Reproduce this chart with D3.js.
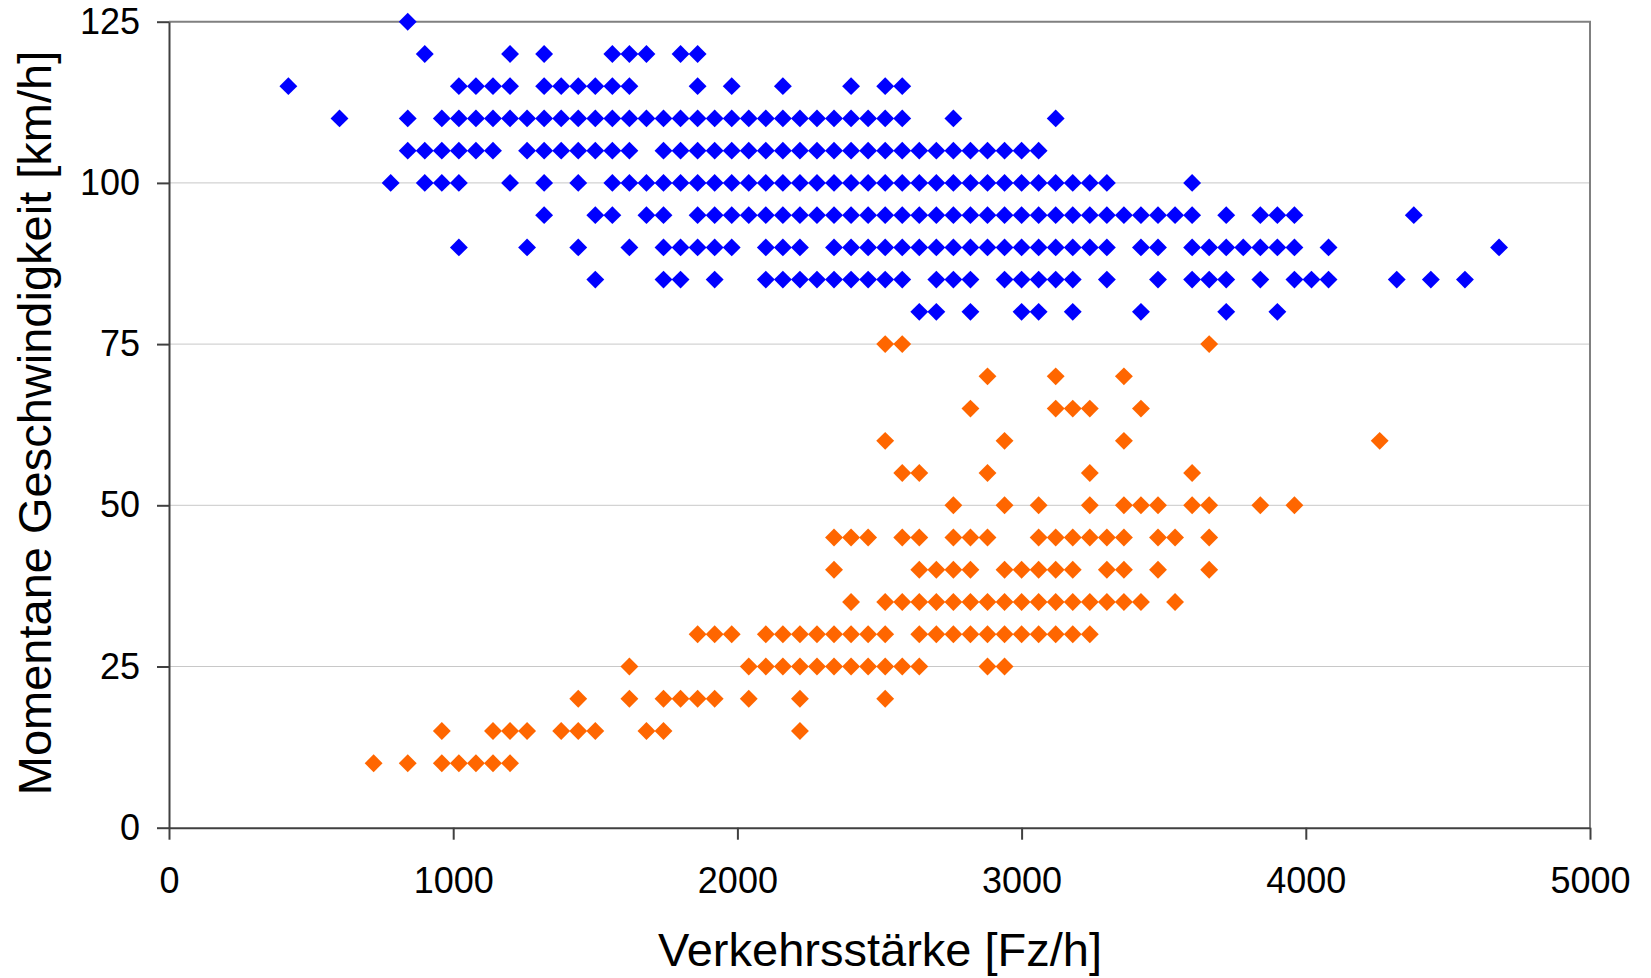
<!DOCTYPE html>
<html>
<head>
<meta charset="utf-8">
<script src="https://cdn.jsdelivr.net/npm/d3@7"></script>
<style>
  body { margin: 0; background: #fff; }
  svg { display: block; font-family: 'Liberation Sans', Arial, sans-serif; }
  .grid line { stroke: #c8c8c8; stroke-width: 1; }
  .axis path, .axis line { stroke: #404040; stroke-width: 2; }
  .axis text { font-size: 36px; fill: #000; }
  .title { font-size: 47px; fill: #000; }
</style>
</head>
<body>
<div id="container"></div>
<script>

//---------------------
// DATA
//---------------------

// axis ticks
const ticksX = [0, 1000, 2000, 3000, 4000, 5000];
const ticksY = [0, 25, 50, 75, 100, 125];

// free flow: speed level -> traffic volumes [Fz/h]
const freeSpeeds = [125, 120, 115, 110, 105, 100, 95, 90, 85, 80];
const freeVolumes = [
  [840],
  [900, 1200, 1320, 1560, 1620, 1680, 1800, 1860],
  [420, 1020, 1080, 1140, 1200, 1320, 1380, 1440, 1500, 1560, 1620, 1860, 1980, 2160, 2400, 2520, 2580],
  [600, 840, 960, 1020, 1080, 1140, 1200, 1260, 1320, 1380, 1440, 1500, 1560, 1620, 1680, 1740, 1800,
   1860, 1920, 1980, 2040, 2100, 2160, 2220, 2280, 2340, 2400, 2460, 2520, 2580, 2760, 3120],
  [840, 900, 960, 1020, 1080, 1140, 1260, 1320, 1380, 1440, 1500, 1560, 1620, 1740, 1800, 1860, 1920,
   1980, 2040, 2100, 2160, 2220, 2280, 2340, 2400, 2460, 2520, 2580, 2640, 2700, 2760, 2820, 2880,
   2940, 3000, 3060],
  [780, 900, 960, 1020, 1200, 1320, 1440, 1560, 1620, 1680, 1740, 1800, 1860, 1920, 1980, 2040, 2100,
   2160, 2220, 2280, 2340, 2400, 2460, 2520, 2580, 2640, 2700, 2760, 2820, 2880, 2940, 3000, 3060,
   3120, 3180, 3240, 3300, 3600],
  [1320, 1500, 1560, 1680, 1740, 1860, 1920, 1980, 2040, 2100, 2160, 2220, 2280, 2340, 2400, 2460,
   2520, 2580, 2640, 2700, 2760, 2820, 2880, 2940, 3000, 3060, 3120, 3180, 3240, 3300, 3360, 3420,
   3480, 3540, 3600, 3720, 3840, 3900, 3960, 4380],
  [1020, 1260, 1440, 1620, 1740, 1800, 1860, 1920, 1980, 2100, 2160, 2220, 2340, 2400, 2460, 2520,
   2580, 2640, 2700, 2760, 2820, 2880, 2940, 3000, 3060, 3120, 3180, 3240, 3300, 3420, 3480, 3600,
   3660, 3720, 3780, 3840, 3900, 3960, 4080, 4680],
  [1500, 1740, 1800, 1920, 2100, 2160, 2220, 2280, 2340, 2400, 2460, 2520, 2580, 2700, 2760, 2820,
   2940, 3000, 3060, 3120, 3180, 3300, 3480, 3600, 3660, 3720, 3840, 3960, 4020, 4080, 4320, 4440, 4560],
  [2640, 2700, 2820, 3000, 3060, 3180, 3420, 3720, 3900]
];

// congested flow: speed level -> traffic volumes [Fz/h]
const jamSpeeds = [75, 70, 65, 60, 55, 50, 45, 40, 35, 30, 25, 20, 15, 10];
const jamVolumes = [
  [2520, 2580, 3660],
  [2880, 3120, 3360],
  [2820, 3120, 3180, 3240, 3420],
  [2520, 2940, 3360, 4260],
  [2580, 2640, 2880, 3240, 3600],
  [2760, 2940, 3060, 3240, 3360, 3420, 3480, 3600, 3660, 3840, 3960],
  [2340, 2400, 2460, 2580, 2640, 2760, 2820, 2880, 3060, 3120, 3180, 3240, 3300, 3360, 3480, 3540, 3660],
  [2340, 2640, 2700, 2760, 2820, 2940, 3000, 3060, 3120, 3180, 3300, 3360, 3480, 3660],
  [2400, 2520, 2580, 2640, 2700, 2760, 2820, 2880, 2940, 3000, 3060, 3120, 3180, 3240, 3300, 3360,
   3420, 3540],
  [1860, 1920, 1980, 2100, 2160, 2220, 2280, 2340, 2400, 2460, 2520, 2640, 2700, 2760, 2820, 2880,
   2940, 3000, 3060, 3120, 3180, 3240],
  [1620, 2040, 2100, 2160, 2220, 2280, 2340, 2400, 2460, 2520, 2580, 2640, 2880, 2940],
  [1440, 1620, 1740, 1800, 1860, 1920, 2040, 2220, 2520],
  [960, 1140, 1200, 1260, 1380, 1440, 1500, 1680, 1740, 2220],
  [720, 840, 960, 1020, 1080, 1140, 1200]
];

//---------------------
// DIMENSIONS + SCALES
//---------------------

const width = 1651;
const height = 978;
const margin = { top: 21.7, right: 61, bottom: 150.3, left: 169 };
const innerW = width - margin.left - margin.right;
const innerH = height - margin.top - margin.bottom;

const scaleX = d3.scaleLinear().domain([0, 5000]).range([0, innerW]);
const scaleY = d3.scaleLinear().domain([0, 125]).range([innerH, 0]);

// flatten rows into points
function toPoints (speeds, volumes) {
  return d3.merge(speeds.map((s, i) => volumes[i].map(q => ({ q: q, v: s }))));
}

//---------------------
// DRAW
//---------------------

const svg = d3.select('#container')
              .append('svg')
              .attr('width', width)
              .attr('height', height);

const g = svg.append('g')
             .attr('transform', `translate(${margin.left}, ${margin.top})`);

// horizontal gridlines
g.append('g')
 .attr('class', 'grid')
 .selectAll('line')
 .data(ticksY.filter(t => t > 0 && t < 125))
 .enter()
 .append('line')
 .attr('x1', 0)
 .attr('x2', innerW)
 .attr('y1', d => scaleY(d))
 .attr('y2', d => scaleY(d));

// plot area border (top + right)
g.append('path')
 .attr('d', `M0,0H${innerW}V${innerH}`)
 .attr('fill', 'none')
 .attr('stroke', '#808080')
 .attr('stroke-width', 2);

// diamond markers
const diamond = d3.symbol(d3.symbolSquare, 160);

function plotSeries (points, color) {
  g.append('g')
   .selectAll('path')
   .data(points)
   .enter()
   .append('path')
   .attr('d', diamond)
   .attr('fill', color)
   .attr('transform', d => `translate(${scaleX(d.q)}, ${scaleY(d.v)}) rotate(45)`);
}

plotSeries(toPoints(freeSpeeds, freeVolumes), '#0000ff');
plotSeries(toPoints(jamSpeeds, jamVolumes), '#ff6600');

// axes
const axisX = d3.axisBottom(scaleX)
                .tickValues(ticksX)
                .tickSizeInner(12)
                .tickSizeOuter(0)
                .tickPadding(28)
                .tickFormat(d3.format('d'));

g.append('g')
 .attr('class', 'axis')
 .attr('transform', `translate(0, ${innerH})`)
 .call(axisX);

const axisY = d3.axisLeft(scaleY)
                .tickValues(ticksY)
                .tickSizeInner(12)
                .tickSizeOuter(0)
                .tickPadding(17)
                .tickFormat(d3.format('d'));

g.append('g')
 .attr('class', 'axis')
 .call(axisY);

// axis titles
svg.append('text')
   .attr('class', 'title')
   .attr('x', 880)
   .attr('y', 966)
   .attr('text-anchor', 'middle')
   .text('Verkehrsstärke [Fz/h]');

svg.append('text')
   .attr('class', 'title')
   .attr('transform', `translate(51, 423) rotate(-90)`)
   .attr('text-anchor', 'middle')
   .text('Momentane Geschwindigkeit [km/h]');

</script>
</body>
</html>
